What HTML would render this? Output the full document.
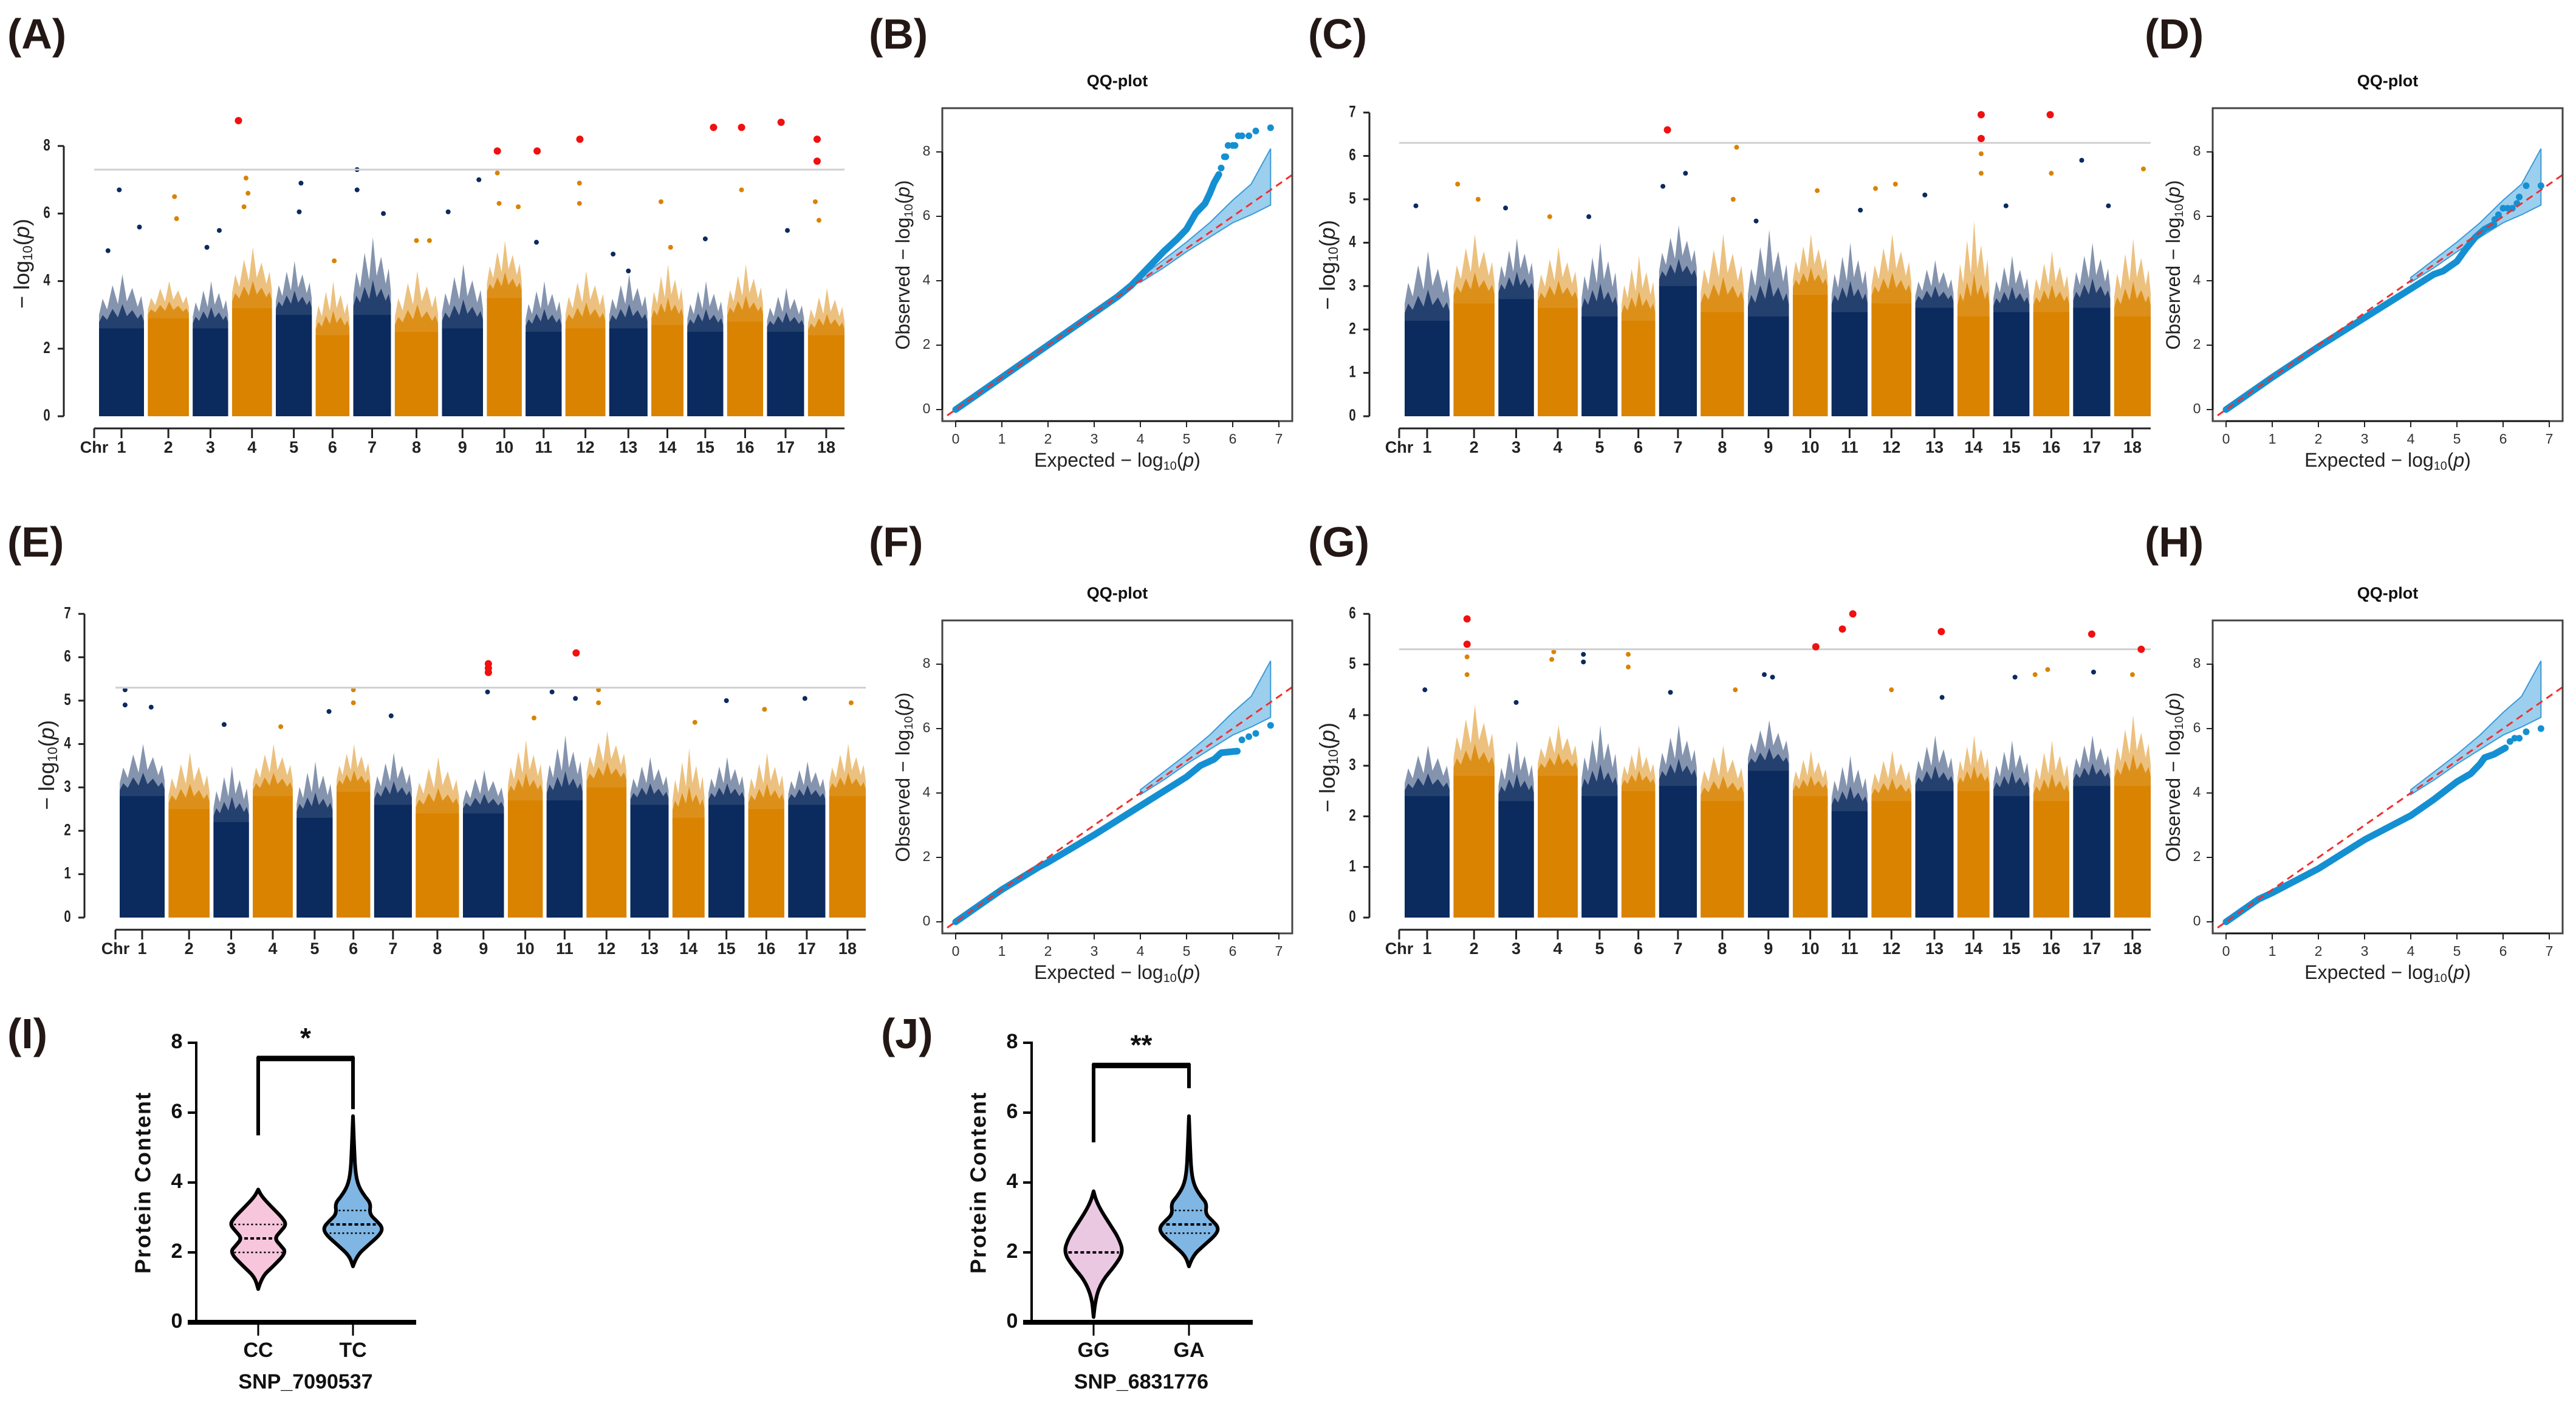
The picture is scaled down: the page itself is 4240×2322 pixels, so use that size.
<!DOCTYPE html>
<html><head><meta charset="utf-8"><style>
html,body{margin:0;padding:0;background:#fff;}
svg{display:block;}
text{font-family:"Liberation Sans",sans-serif;}
</style></head><body>
<svg id="fig" width="4240" height="2322" viewBox="0 0 4240 2322" xmlns="http://www.w3.org/2000/svg"></svg>
<script>
// ---------- data ----------
const chrNames = ['1','2','3','4','5','6','7','8','9','10','11','12','13','14','15','16','17','18'];
const chrLen = [80,73,63,71,64,60,67,77,73,62,64,71,68,57,64,64,66,65];

const aSolid = [2.6,2.9,2.6,3.2,3.0,2.4,3.0,2.5,2.6,3.5,2.5,2.6,2.6,2.7,2.5,2.8,2.5,2.4];
const aCloud = [4.2,4.0,4.0,5.0,4.6,4.0,5.3,4.3,4.5,5.2,4.0,4.3,4.2,4.5,4.0,4.5,3.8,3.8];
const aSig = [[4,0.16,8.75],[10,0.3,7.85],[11,0.32,7.85],[12,0.36,8.2],[15,0.73,8.55],[16,0.4,8.55],[17,0.38,8.7],[18,0.25,8.2],[18,0.25,7.55]];
const aPts = [[1,0.45,6.7],[1,0.9,5.6],[2,0.65,6.5],[2,0.7,5.85],[4,0.35,7.05],[4,0.4,6.6],[4,0.3,6.2],[5,0.7,6.9],[5,0.65,6.05],[7,0.1,7.3],[7,0.1,6.7],[7,0.8,6.0],[9,0.15,6.05],[9,0.9,7.0],[10,0.3,7.2],[10,0.35,6.3],[10,0.9,6.2],[12,0.35,6.9],[12,0.35,6.3],[14,0.3,6.35],[16,0.4,6.7],[17,0.55,5.5],[18,0.2,6.35],[18,0.3,5.8],[3,0.75,5.5],[8,0.5,5.2],[14,0.6,5.0],[15,0.5,5.25],[6,0.55,4.6],[13,0.1,4.8],[1,0.2,4.9],[3,0.4,5.0],[8,0.8,5.2],[11,0.3,5.15],[13,0.5,4.3]];

const cSolid = [2.2,2.6,2.7,2.5,2.3,2.2,3.0,2.4,2.3,2.8,2.4,2.6,2.5,2.3,2.4,2.4,2.5,2.3];
const cCloud = [3.8,4.2,4.1,3.9,4.0,3.7,4.4,4.2,4.3,4.2,4.0,4.2,3.6,4.5,3.7,3.8,4.0,4.1];
const cSig = [[7,0.22,6.6],[14,0.74,6.95],[14,0.74,6.4],[16,0.47,6.95]];
const cPts = [[8,0.83,6.2],[14,0.74,6.05],[14,0.74,5.6],[7,0.7,5.6],[7,0.1,5.3],[16,0.5,5.6],[17,0.23,5.9],[18,0.8,5.7],[2,0.1,5.35],[2,0.6,5.0],[12,0.6,5.35],[12,0.1,5.25],[10,0.7,5.2],[13,0.25,5.1],[1,0.25,4.85],[3,0.2,4.8],[11,0.8,4.75],[15,0.35,4.85],[17,0.95,4.85],[8,0.75,5.0],[9,0.2,4.5],[5,0.2,4.6],[4,0.3,4.6]];

const eSolid = [2.8,2.5,2.2,2.8,2.3,2.9,2.6,2.4,2.4,2.7,2.7,3.0,2.6,2.3,2.6,2.5,2.6,2.8];
const eCloud = [4.0,3.8,3.5,4.0,3.6,4.0,3.8,3.7,3.4,4.1,4.2,4.3,3.7,3.9,3.7,3.8,3.6,4.0];
const eSig = [[9,0.62,5.85],[9,0.62,5.75],[9,0.62,5.65],[11,0.82,6.1]];
const ePts = [[1,0.12,5.25],[1,0.12,4.9],[1,0.7,4.85],[6,0.5,5.25],[6,0.5,4.95],[9,0.6,5.2],[11,0.15,5.2],[11,0.8,5.05],[12,0.3,5.25],[12,0.3,4.95],[15,0.5,5.0],[17,0.45,5.05],[18,0.6,4.95],[5,0.9,4.75],[7,0.45,4.65],[10,0.75,4.6],[3,0.3,4.45],[4,0.7,4.4],[14,0.7,4.5],[16,0.45,4.8]];

const gSolid = [2.4,2.8,2.3,2.8,2.4,2.5,2.6,2.3,2.9,2.4,2.1,2.3,2.5,2.5,2.4,2.3,2.6,2.6];
const gCloud = [3.4,4.2,3.5,3.8,3.8,3.4,3.8,3.4,3.9,3.3,3.2,3.3,3.6,3.6,3.5,3.5,3.6,4.0];
const gSig = [[2,0.33,5.9],[2,0.33,5.4],[10,0.66,5.35],[11,0.3,5.7],[11,0.59,6.0],[13,0.68,5.65],[17,0.5,5.6],[18,0.74,5.3]];
const gPts = [[2,0.33,5.15],[2,0.33,4.8],[4,0.4,5.25],[4,0.35,5.1],[5,0.05,5.2],[5,0.05,5.05],[6,0.2,5.2],[6,0.2,4.95],[9,0.4,4.8],[9,0.6,4.75],[15,0.6,4.75],[16,0.05,4.8],[16,0.4,4.9],[17,0.55,4.85],[18,0.5,4.8],[1,0.45,4.5],[7,0.3,4.45],[8,0.8,4.5],[12,0.5,4.5],[13,0.7,4.35],[3,0.5,4.25]];

const bandX = [4,4.5,5,5.5,6,6.4,6.82];
const bandUp = [4.1,4.65,5.2,5.8,6.5,7.0,8.1];
const bandLo = [3.95,4.4,4.9,5.35,5.8,6.05,6.35];

const bExp = [0,1,2,3,3.5,3.8,4,4.3,4.5,4.8,5,5.2,5.4,5.5,5.6,5.7];
const bObs = [0,1,2,3,3.5,3.85,4.15,4.6,4.9,5.3,5.6,6.1,6.4,6.7,7.05,7.3];
const bTailX = [5.75,5.82,5.85,5.9,6.0,6.05,6.12,6.2,6.35,6.5,6.82];
const bTailY = [7.5,7.85,7.85,8.2,8.2,8.2,8.5,8.5,8.5,8.65,8.75];

const dExp = [0,1,2,3,4,4.5,4.7,5,5.2,5.4,5.6,5.8];
const dObs = [0,1,1.95,2.85,3.75,4.2,4.3,4.6,5.0,5.35,5.6,5.75];
const dTailX = [5.82,5.9,6.0,6.1,6.2,6.3,6.35,6.5,6.82];
const dTailY = [5.9,6.05,6.25,6.25,6.25,6.4,6.6,6.95,6.95];

const fExp = [0,1,1.8,2,3,4,4.5,5,5.3,5.6,5.75,6.1];
const fObs = [0,1,1.7,1.85,2.7,3.6,4.05,4.5,4.85,5.05,5.25,5.3];
const fTailX = [6.2,6.35,6.5,6.82];
const fTailY = [5.65,5.75,5.85,6.1];

const hExp = [0,0.7,1,2,3,4,4.5,5,5.3,5.5,5.6,5.8,6.05];
const hObs = [0,0.7,0.9,1.65,2.55,3.3,3.8,4.35,4.6,4.9,5.1,5.2,5.4];
const hTailX = [6.15,6.25,6.35,6.5,6.82];
const hTailY = [5.6,5.7,5.7,5.9,6.0];

const ccVals = [0.95,1.3,1.6,2.0,2.2,2.4,2.6,2.8,3.0,3.3,3.6,3.8];
const ccDens = [0,0.12,0.5,0.95,0.75,0.55,0.75,0.95,0.8,0.45,0.12,0];
const tcVals = [1.6,1.9,2.2,2.5,2.7,2.9,3.1,3.4,3.6,3.9,4.3,5.0,5.9];
const tcDens = [0,0.12,0.5,0.9,1.0,0.8,0.55,0.6,0.4,0.18,0.08,0.04,0];
const ggVals = [0.15,0.7,1.2,1.6,2.0,2.4,2.8,3.2,3.5,3.75];
const ggDens = [0,0.06,0.3,0.7,1.0,0.85,0.55,0.25,0.08,0];
const ccQuart = [2.0,2.4,2.8];
const tcQuart = [2.55,2.8,3.2];
const ggQuart = [2.0];
const gaQuart = [2.55,2.8,3.2];

// ---------- helpers ----------
const NS = 'http://www.w3.org/2000/svg';
const svg = document.getElementById('fig');
function add(parent, tag, attrs, name, inter) {
  const el = document.createElementNS(NS, tag);
  for (const k in attrs) el.setAttribute(k, attrs[k]);
  
  
  parent.appendChild(el);
  return el;
}
function txt(parent, x, y, s, attrs, name) {
  const t = add(parent, 'text', Object.assign({x: x, y: y}, attrs), name, false);
  t.textContent = s;
  return t;
}
function logLabel(parent, x, y, prefix, size, rot, name, bold) {
  const t = add(parent, 'text', {x: x, y: y, 'font-size': size, 'text-anchor': 'middle', 'dominant-baseline': 'middle', fill: '#222', 'font-weight': bold ? 'bold' : 'normal', transform: rot ? 'rotate(-90 ' + x + ' ' + y + ')' : ''}, name, false);
  const a = document.createElementNS(NS, 'tspan'); a.textContent = prefix + '\u2212 log';
  t.appendChild(a);
  const b = document.createElementNS(NS, 'tspan'); b.setAttribute('font-size', size * 0.62); b.setAttribute('dy', size * 0.25); b.textContent = '10';
  t.appendChild(b);
  const c = document.createElementNS(NS, 'tspan'); c.setAttribute('dy', -size * 0.25); c.textContent = '(';
  t.appendChild(c);
  const d = document.createElementNS(NS, 'tspan'); d.setAttribute('font-style', 'italic'); d.textContent = 'p';
  t.appendChild(d);
  const e = document.createElementNS(NS, 'tspan'); e.textContent = ')';
  t.appendChild(e);
  return t;
}
function panelLabel(x, y, s) {
  txt(svg, x, y, s, {'font-size': 70, 'font-weight': 'bold', fill: '#231815'}, 'panel-label-' + s.replace(/[()]/g, '').toLowerCase());
}

// ---------- Manhattan ----------
const NAVY = '#0b2a5e', ORANGE = '#d98300';
// visual texture of the sparse upper cloud (style, not data)
const spikeFrac = [0, 0.08, 0.18, 0.3, 0.42, 0.52, 0.62, 0.74, 0.86, 0.94, 1];
const spikeShape = [0.25, 0.55, 0.35, 0.8, 0.45, 1.0, 0.5, 0.75, 0.4, 0.6, 0.3];
function manhattan(cfg, solid, cloud, pts, sig, key) {
  const g = add(svg, 'g', {}, 'manhattan-' + key, false);
  const total = chrLen.reduce((a, b) => a + b, 0) + 7 * (chrLen.length - 1);
  const sx = (cfg.x1 - cfg.x0) / total;
  const starts = [];
  let acc = 0;
  for (let i = 0; i < chrLen.length; i++) { starts.push(acc); acc += chrLen[i] + 7; }
  const X = (c, f) => cfg.x0 + (starts[c - 1] + f * chrLen[c - 1]) * sx;
  const Y = v => cfg.y0 - v * cfg.ppu;
  add(g, 'line', {x1: cfg.ax, x2: cfg.ax, y1: Y(0), y2: Y(cfg.ymax), stroke: '#222', 'stroke-width': 3}, 'y-axis-line', false);
  for (let v = 0; v <= cfg.ymax; v += cfg.step) {
    add(g, 'line', {x1: cfg.ax - 10, x2: cfg.ax, y1: Y(v), y2: Y(v), stroke: '#222', 'stroke-width': 3}, 'y-tick', false);
    txt(g, cfg.ax - 28, Y(v), String(v), {'font-size': 27, 'font-weight': 'bold', 'text-anchor': 'middle', 'dominant-baseline': 'middle', fill: '#222', transform: 'translate(' + (cfg.ax - 28) + ' 0) scale(0.75 1) translate(' + (-(cfg.ax - 28)) + ' 0)'}, 'y-tick-label');
  }
  logLabel(g, cfg.ylx, cfg.yly, '', 36, true, 'y-axis-title', false);
  for (let i = 0; i < chrLen.length; i++) {
    const c = i + 1, col = i % 2 === 0 ? NAVY : ORANGE;
    const xa = X(c, 0), xb = X(c, 1);
    const cg = add(g, 'g', {}, 'chromosome-' + c, false);
    const top = spikeFrac.map((f, k) => (xa + (xb - xa) * f) + ',' + Y(solid[i] + (cloud[i] - solid[i]) * spikeShape[k]));
    const poly = [xb + ',' + Y(0), xa + ',' + Y(0)].concat(top);
    add(cg, 'polygon', {points: poly.join(' '), fill: col, opacity: 0.5}, 'cloud-band', false);
    const top2 = spikeFrac.map((f, k) => (xa + (xb - xa) * f) + ',' + Y(solid[i] + 0.45 * (cloud[i] - solid[i]) * spikeShape[k]));
    add(cg, 'polygon', {points: [xb + ',' + Y(0), xa + ',' + Y(0)].concat(top2).join(' '), fill: col, opacity: 0.8}, 'mid-band', false);
    add(cg, 'rect', {x: xa, y: Y(solid[i]), width: xb - xa, height: solid[i] * cfg.ppu, fill: col}, 'dense-block', false);
    add(cg, 'line', {x1: X(c, 0.5), x2: X(c, 0.5), y1: cfg.cy, y2: cfg.cy + 16, stroke: '#222', 'stroke-width': 3}, 'chr-tick', false);
    txt(cg, X(c, 0.5), cfg.cy + 33, chrNames[i], {'font-size': 27, 'font-weight': 'bold', 'text-anchor': 'middle', 'dominant-baseline': 'middle', fill: '#222'}, 'chr-label');
  }
  for (const p of pts) {
    add(g, 'circle', {cx: X(p[0], p[1]), cy: Y(p[2]), r: 4, fill: p[0] % 2 ? NAVY : ORANGE}, 'snp-point', false);
  }
  add(g, 'line', {x1: cfg.lx0, x2: cfg.x1, y1: Y(cfg.thr), y2: Y(cfg.thr), stroke: '#d0d0d0', 'stroke-width': 3}, 'threshold-line', false);
  for (const p of sig) {
    add(g, 'circle', {cx: X(p[0], p[1]), cy: Y(p[2]), r: 6, fill: '#f01010'}, 'significant-snp', false);
  }
  add(g, 'line', {x1: cfg.lx0, x2: cfg.x1, y1: cfg.cy, y2: cfg.cy, stroke: '#222', 'stroke-width': 3}, 'chr-axis-line', false);
  add(g, 'line', {x1: cfg.lx0, x2: cfg.lx0, y1: cfg.cy, y2: cfg.cy + 16, stroke: '#222', 'stroke-width': 3}, 'chr-axis-start-tick', false);
  txt(g, cfg.lx0, cfg.cy + 33, 'Chr', {'font-size': 27, 'font-weight': 'bold', 'text-anchor': 'middle', 'dominant-baseline': 'middle', fill: '#222'}, 'chr-axis-title');
}
manhattan({x0: 163, x1: 1390, lx0: 155, y0: 685, ppu: 55.6, ax: 105, ymax: 8, step: 2, thr: 7.3, cy: 705, ylx: 38, yly: 434}, aSolid, aCloud, aPts, aSig, 'a');
manhattan({x0: 2312, x1: 3540, lx0: 2303, y0: 685, ppu: 71.4, ax: 2254, ymax: 7, step: 1, thr: 6.3, cy: 705, ylx: 2187, yly: 436}, cSolid, cCloud, cPts, cSig, 'c');
manhattan({x0: 197, x1: 1425, lx0: 190, y0: 1510, ppu: 71.4, ax: 139, ymax: 7, step: 1, thr: 5.3, cy: 1530, ylx: 79, yly: 1259}, eSolid, eCloud, ePts, eSig, 'e');
manhattan({x0: 2312, x1: 3540, lx0: 2303, y0: 1510, ppu: 83.3, ax: 2254, ymax: 6, step: 1, thr: 5.3, cy: 1530, ylx: 2187, yly: 1263}, gSolid, gCloud, gPts, gSig, 'g');

// ---------- QQ ----------
let clipN = 0;
function qq(L, T, ex, ob, tx, ty, key) {
  const g = add(svg, 'g', {}, 'qq-plot-' + key, false);
  const W = 576, H = 515;
  const X = v => L + 22 + v * 76;
  const Y = v => T + 496 - v * 53;
  const id = 'qqclip' + (clipN++);
  const cp = add(g, 'clipPath', {id: id}, 'clip', false);
  add(cp, 'rect', {x: L, y: T, width: W, height: H}, 'clip-rect', false);
  const inner = add(g, 'g', {'clip-path': 'url(#' + id + ')'}, 'qq-plot-area', false);
  const up = bandX.map((x, i) => X(x) + ',' + Y(bandUp[i]));
  const lo = bandX.map((x, i) => X(x) + ',' + Y(bandLo[i])).reverse();
  add(inner, 'polygon', {points: up.concat(lo).join(' '), fill: '#9ccfee', stroke: '#3b9bd8', 'stroke-width': 2}, 'confidence-band', false);
  add(inner, 'polyline', {points: ex.map((x, i) => X(x) + ',' + Y(ob[i])).join(' '), fill: 'none', stroke: '#1490d2', 'stroke-width': 11, 'stroke-linecap': 'round', 'stroke-linejoin': 'round'}, 'observed-curve', false);
  for (let i = 0; i < tx.length; i++) {
    add(inner, 'circle', {cx: X(tx[i]), cy: Y(ty[i]), r: 5.5, fill: '#1490d2'}, 'observed-point', false);
  }
  add(inner, 'line', {x1: X(-0.4), y1: Y(-0.4), x2: X(7.5), y2: Y(7.5), stroke: '#f03030', 'stroke-width': 3, 'stroke-dasharray': '12 8'}, 'expected-line', false);
  add(g, 'rect', {x: L, y: T, width: W, height: H, fill: 'none', stroke: '#444', 'stroke-width': 3}, 'plot-frame', false);
  add(g, 'line', {x1: L, x2: L, y1: Y(0), y2: Y(8), stroke: '#111', 'stroke-width': 3}, 'y-axis-line', false);
  for (let v = 0; v <= 8; v += 2) {
    add(g, 'line', {x1: L - 10, x2: L, y1: Y(v), y2: Y(v), stroke: '#222', 'stroke-width': 2}, 'y-tick', false);
    txt(g, L - 26, Y(v), String(v), {'font-size': 23, 'text-anchor': 'middle', 'dominant-baseline': 'middle', fill: '#333'}, 'y-tick-label');
  }
  add(g, 'line', {x1: X(0), x2: X(7), y1: T + H, y2: T + H, stroke: '#111', 'stroke-width': 3}, 'x-axis-line', false);
  for (let v = 0; v <= 7; v++) {
    add(g, 'line', {x1: X(v), x2: X(v), y1: T + H, y2: T + H + 10, stroke: '#222', 'stroke-width': 2}, 'x-tick', false);
    txt(g, X(v), T + H + 31, String(v), {'font-size': 23, 'text-anchor': 'middle', 'dominant-baseline': 'middle', fill: '#333'}, 'x-tick-label');
  }
  txt(g, L + 288, T - 43, 'QQ-plot', {'font-size': 27, 'font-weight': 'bold', 'text-anchor': 'middle', 'dominant-baseline': 'middle', fill: '#111'}, 'qq-title');
  logLabel(g, L + 288, T + 582, 'Expected  ', 32, false, 'x-axis-title', false);
  logLabel(g, L - 62, T + 258, 'Observed  ', 32, true, 'y-axis-title', false);
}
qq(1551, 178, bExp, bObs, bTailX, bTailY, 'b');
qq(3642, 178, dExp, dObs, dTailX, dTailY, 'd');
qq(1551, 1021, fExp, fObs, fTailX, fTailY, 'f');
qq(3642, 1021, hExp, hObs, hTailX, hTailY, 'h');

// ---------- violins ----------
function halfAt(vals, dens, v) {
  for (let i = 0; i < vals.length - 1; i++) {
    if (v >= vals[i] && v <= vals[i + 1]) { const t = (v - vals[i]) / (vals[i + 1] - vals[i]); return dens[i] + t * (dens[i + 1] - dens[i]); }
  }
  return 0;
}
function violinPanel(cfg, groups, key) {
  const g = add(svg, 'g', {}, 'violin-plot-' + key, false);
  const Y = v => cfg.y0 - v * 57.5;
  const HW = 49;
  for (const gr of groups) {
    const side1 = gr.vals.map((v, i) => [gr.x + gr.dens[i] * HW, Y(v)]);
    const side2 = gr.vals.map((v, i) => [gr.x - gr.dens[i] * HW, Y(v)]).reverse();
    const pts = side1.concat(side2);
    let d = 'M' + pts[0][0] + ',' + pts[0][1];
    for (let i = 1; i < pts.length - 1; i++) {
      const mx = (pts[i][0] + pts[i + 1][0]) / 2, my = (pts[i][1] + pts[i + 1][1]) / 2;
      d += ' Q' + pts[i][0] + ',' + pts[i][1] + ' ' + mx + ',' + my;
    }
    d += ' L' + pts[pts.length - 1][0] + ',' + pts[pts.length - 1][1] + ' Z';
    add(g, 'path', {d: d, fill: gr.fill, stroke: '#000', 'stroke-width': 6, 'stroke-linejoin': 'round'}, 'violin-' + gr.name.toLowerCase(), false);
    gr.q.forEach((q, qi) => {
      const hw = halfAt(gr.vals, gr.dens, q) * HW * 0.85;
      const med = gr.q.length === 1 || qi === 1;
      add(g, 'line', {x1: gr.x - hw, x2: gr.x + hw, y1: Y(q), y2: Y(q), stroke: '#000', 'stroke-width': med ? 4 : 2.5, 'stroke-dasharray': med ? '6 4' : '3 4'}, med ? 'median-line' : 'quartile-line', false);
    });
    add(g, 'line', {x1: gr.x, x2: gr.x, y1: cfg.y0, y2: cfg.y0 + 22, stroke: '#000', 'stroke-width': 3}, 'x-tick', false);
    txt(g, gr.x, cfg.y0 + 48, gr.name, {'font-size': 34, 'font-weight': 'bold', 'text-anchor': 'middle', 'dominant-baseline': 'middle', fill: '#111'}, 'x-tick-label');
  }
  add(g, 'line', {x1: cfg.ax, x2: cfg.ax, y1: Y(0), y2: Y(8) - 2, stroke: '#000', 'stroke-width': 4}, 'y-axis-line', false);
  for (let v = 0; v <= 8; v += 2) {
    add(g, 'line', {x1: cfg.ax - 14, x2: cfg.ax, y1: Y(v), y2: Y(v), stroke: '#000', 'stroke-width': 4}, 'y-tick', false);
    txt(g, cfg.ax - 32, Y(v), String(v), {'font-size': 34, 'font-weight': 'bold', 'text-anchor': 'middle', 'dominant-baseline': 'middle', fill: '#111'}, 'y-tick-label');
  }
  add(g, 'line', {x1: cfg.ax - 14, x2: cfg.axEnd, y1: Y(0), y2: Y(0), stroke: '#000', 'stroke-width': 8}, 'x-axis-line', false);
  const gx = groups.map(x => x.x);
  add(g, 'polyline', {points: [gx[0], Y(cfg.bl), gx[0], Y(cfg.bt), gx[1], Y(cfg.bt), gx[1], Y(cfg.br)].join(' '), fill: 'none', stroke: '#000', 'stroke-width': 6}, 'significance-bracket', false);
  add(g, 'line', {x1: gx[0] - 2, x2: gx[1] + 2, y1: Y(cfg.bt), y2: Y(cfg.bt), stroke: '#000', 'stroke-width': 9}, 'bracket-top', false);
  txt(g, (gx[0] + gx[1]) / 2, Y(cfg.bt) - 30, cfg.star, {'font-size': 46, 'font-weight': 'bold', 'text-anchor': 'middle', 'dominant-baseline': 'middle', fill: '#111'}, 'significance-stars');
  const yl = cfg.ax - 85, ym = Y(4.0);
  txt(g, yl, ym, 'Protein Content', {'font-size': 36, 'font-weight': 'bold', 'text-anchor': 'middle', 'dominant-baseline': 'middle', fill: '#111', 'letter-spacing': 2, transform: 'rotate(-90 ' + yl + ' ' + ym + ')'}, 'y-axis-title');
  txt(g, (gx[0] + gx[1]) / 2, cfg.y0 + 100, cfg.snp, {'font-size': 34, 'font-weight': 'bold', 'text-anchor': 'middle', 'dominant-baseline': 'middle', fill: '#111'}, 'x-axis-title');
}
violinPanel({y0: 2176, ax: 323, axEnd: 685, bl: 5.35, bt: 7.55, br: 6.1, star: '*', snp: 'SNP_7090537'},
  [{name: 'CC', x: 425, vals: ccVals, dens: ccDens, q: ccQuart, fill: '#f7c6dc'}, {name: 'TC', x: 581, vals: tcVals, dens: tcDens, q: tcQuart, fill: '#7fb6e4'}], 'i');
violinPanel({y0: 2176, ax: 1698, axEnd: 2062, bl: 5.15, bt: 7.35, br: 6.7, star: '**', snp: 'SNP_6831776'},
  [{name: 'GG', x: 1800, vals: ggVals, dens: ggDens, q: ggQuart, fill: '#ebc8e2'}, {name: 'GA', x: 1957, vals: tcVals, dens: tcDens, q: gaQuart, fill: '#7fb6e4'}], 'j');

// ---------- panel labels ----------
panelLabel(12, 80, '(A)');
panelLabel(1430, 80, '(B)');
panelLabel(2153, 80, '(C)');
panelLabel(3530, 80, '(D)');
panelLabel(12, 916, '(E)');
panelLabel(1430, 916, '(F)');
panelLabel(2153, 916, '(G)');
panelLabel(3530, 916, '(H)');
panelLabel(12, 1725, '(I)');
panelLabel(1450, 1725, '(J)');
</script>
</body></html>
